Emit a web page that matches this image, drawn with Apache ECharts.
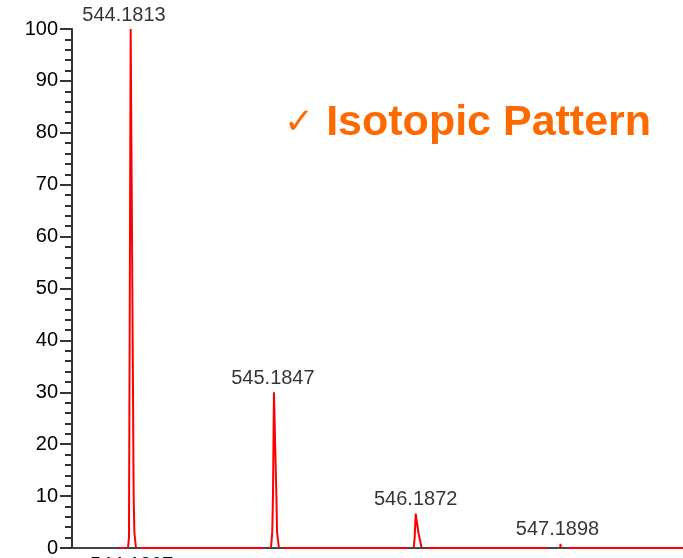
<!DOCTYPE html>
<html>
<head>
<meta charset="utf-8">
<script src="https://cdn.jsdelivr.net/npm/echarts@6/dist/echarts.min.js"></script>
<style>
  html, body { margin: 0; padding: 0; background: #fff; }
  #chart { width: 683px; height: 558px; }
</style>
</head>
<body>
<div id="chart"></div>
<script>
// profile spectrum (m/z, relative intensity); null intensity = break in the trace
const profileMz = [
  544.090, 544.132, 544.140,
  544.153, 544.160, 544.166, 544.172, 544.186, 544.193, 544.198, 544.209, 544.220,
  544.237, 545.108, 545.130,
  545.157, 545.166, 545.171, 545.178, 545.190, 545.195, 545.200, 545.213, 545.225,
  545.241, 546.117, 546.140,
  546.159, 546.166, 546.173, 546.180, 546.194, 546.215, 546.230,
  546.250, 547.099, 547.140,
  547.1884, 547.1898, 547.1912, 547.210,
  547.239, 548.060
];
const profileInt = [
  0, 0, null,
  0, 2, 50, 100, 100, 10, 3, 0, null,
  0, 0, null,
  0, 3, 10, 30, 30, 10, 3, 0, null,
  0, 0, null,
  0, 2, 6.6, 6.4, 2.7, 0, null,
  0, 0, null,
  0, 0.8, 0, null,
  0, 0
];

// centroid labels
const peakMz = [544.1813, 545.1847, 546.1872, 547.1898];
const peakInt = [100, 30, 6.6, 0.8];
const peakLabels = ['544.1813', '545.1847', '546.1872', '547.1898'];

const yTicks = [0, 10, 20, 30, 40, 50, 60, 70, 80, 90, 100];

const chart = echarts.init(document.getElementById('chart'));

const lineData = profileMz.map((m, i) => profileInt[i] == null ? [m, '-'] : [m, profileInt[i]]);
const labelShift = [-8, -2, -2, -3];

const yMin = yTicks[0];
const yMax = yTicks[yTicks.length - 1];

chart.setOption({
  animation: false,
  grid: { left: 72, right: 0, top: 29, bottom: 6, containLabel: false },
  xAxis: {
    type: 'value',
    min: 543.76,
    max: 548.05,
    offset: 2,
    axisLine: { show: true, lineStyle: { color: '#444', width: 2 } },
    axisTick: { show: false },
    axisLabel: { show: false },
    splitLine: { show: false }
  },
  yAxis: [
    {
      type: 'value',
      min: yMin,
      max: yMax,
      interval: 10,
      axisLine: { show: true, lineStyle: { color: '#333', width: 2 } },
      axisTick: { show: true, length: 12, lineStyle: { color: '#333', width: 2 } },
      axisLabel: { margin: 14, fontSize: 20, color: '#000', fontFamily: 'Liberation Sans' },
      splitLine: { show: false }
    },
    {
      // minor ticks every 2 units
      type: 'value',
      position: 'left',
      min: yMin,
      max: yMax,
      interval: 2,
      axisLine: { show: false },
      axisTick: { show: true, length: 7, lineStyle: { color: '#333', width: 2 } },
      axisLabel: { show: false },
      splitLine: { show: false }
    }
  ],
  graphic: [
    {
      type: 'text',
      left: 284,
      top: 102,
      style: {
        text: '{c|✓}{t|Isotopic Pattern}',
        rich: {
          c: { fontSize: 36, fontWeight: 'bold', fill: '#FF6A00', fontFamily: 'DejaVu Sans', padding: [0, 12, 0, 0] },
          t: { fontSize: 43, fontWeight: 'bold', fill: '#FF6A00', fontFamily: 'Liberation Sans' }
        }
      }
    },
    {
      type: 'text',
      left: 90,
      top: 555,
      style: { text: '544.1807', fontSize: 20, fill: '#000', fontFamily: 'Liberation Sans' }
    }
  ],
  series: [
    {
      type: 'line',
      yAxisIndex: 0,
      data: lineData,
      showSymbol: false,
      connectNulls: false,
      lineStyle: { color: '#FF0000', width: 2 },
      z: 3
    },
    {
      type: 'scatter',
      yAxisIndex: 0,
      symbolSize: 0,
      data: peakMz.map((m, i) => ({
        value: [m, peakInt[i]],
        label: { offset: [labelShift[i], 0] }
      })),
      label: {
        show: true,
        position: 'top',
        distance: 4,
        fontSize: 20,
        color: '#000',
        fontFamily: 'Liberation Sans',
        formatter: p => peakLabels[p.dataIndex]
      },
      z: 4
    }
  ]
});
</script>
</body>
</html>
